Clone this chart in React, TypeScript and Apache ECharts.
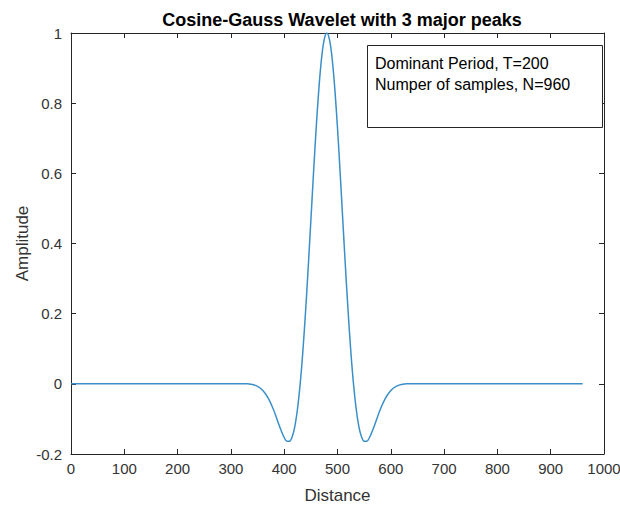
import React, { useEffect, useRef } from "react";
import * as echarts from "echarts";

// Wavelet samples (Distance, Amplitude)
const distance = [
  0, 300, 320, 330, 340, 350, 360, 370, 380, 390, 395, 400, 405, 410, 415, 420, 425, 430,
  435, 440, 445, 450, 455, 460, 465, 470, 475, 480, 485, 490, 495, 500, 505, 510, 515,
  520, 525, 530, 535, 540, 545, 550, 555, 560, 565, 570, 580, 590, 600, 610, 620, 630,
  640, 660, 960,
];
const amplitude = [
  0, 0, 0, 0, -0.002, -0.007, -0.019, -0.041, -0.074, -0.116, -0.136, -0.153, -0.164,
  -0.164, -0.151, -0.121, -0.071, 0, 0.092, 0.204, 0.33, 0.465, 0.601, 0.729, 0.84,
  0.927, 0.981, 1, 0.981, 0.927, 0.84, 0.729, 0.601, 0.465, 0.33, 0.204, 0.092, 0,
  -0.071, -0.121, -0.151, -0.164, -0.164, -0.153, -0.136, -0.116, -0.074, -0.041,
  -0.019, -0.007, -0.002, 0, 0, 0, 0,
];

const xTicks = { min: 0, max: 1000, interval: 100 };
const yTicks = { min: -0.2, max: 1, interval: 0.2 };

const titleText = "Cosine-Gauss Wavelet with 3 major peaks";
const xLabel = "Distance";
const yLabel = "Amplitude";
const noteLines = ["Dominant Period, T=200", "Numper of samples, N=960"];

export default function App() {
  const ref = useRef<HTMLDivElement>(null);
  useEffect(() => {
    document.body.style.margin = "0";
    const chart = echarts.init(ref.current!, undefined, { renderer: "svg" });
    const font = "'Liberation Sans', Arial, Helvetica, sans-serif";
    const axisColor = "#262626";
    const labelColor = "#333333";
    const data = distance.map((d, i) => [d, amplitude[i]]);
    const baseX = {
      type: "value" as const,
      min: xTicks.min,
      max: xTicks.max,
      interval: xTicks.interval,
      axisLine: { show: true, onZero: false, lineStyle: { color: axisColor, width: 1 } },
      axisTick: { show: true, inside: true, length: 5, lineStyle: { color: axisColor } },
      splitLine: { show: false },
    };
    const baseY = {
      type: "value" as const,
      min: yTicks.min,
      max: yTicks.max,
      interval: yTicks.interval,
      axisLine: { show: true, onZero: false, lineStyle: { color: axisColor, width: 1 } },
      axisTick: { show: true, inside: true, length: 5, lineStyle: { color: axisColor } },
      splitLine: { show: false },
    };
    chart.setOption({
      animation: false,
      backgroundColor: "#ffffff",
      title: {
        text: titleText,
        left: 337,
        top: 6,
        textAlign: "center",
        textStyle: { fontFamily: font, fontSize: 18, fontWeight: "bold", color: "#000" },
      },
      grid: { left: 71, right: 16, top: 33, bottom: 52, outerBoundsMode: "none", containLabel: false },
      xAxis: [
        {
          ...baseX,
          position: "bottom",
          name: xLabel,
          nameLocation: "middle",
          nameGap: 33,
          nameMoveOverlap: false,
          nameTextStyle: { fontFamily: font, fontSize: 17, color: labelColor },
          axisLabel: {
            fontFamily: font,
            fontSize: 15,
            color: labelColor,
            margin: 7,
            formatter: (v: number) => String(v),
          },
        },
        { ...baseX, position: "top", axisLabel: { show: false } },
      ],
      yAxis: [
        {
          ...baseY,
          position: "left",
          name: yLabel,
          nameLocation: "middle",
          nameGap: 40,
          nameMoveOverlap: false,
          nameTextStyle: { fontFamily: font, fontSize: 17, color: labelColor },
          axisLabel: {
            fontFamily: font,
            fontSize: 15,
            color: labelColor,
            margin: 9,
            formatter: (v: number) => String(Number(v.toFixed(1))),
          },
        },
        { ...baseY, position: "right", axisLabel: { show: false } },
      ],
      series: [
        {
          type: "line",
          data,
          xAxisIndex: 0,
          yAxisIndex: 0,
          showSymbol: false,
          smooth: 0.3,
          lineStyle: { color: "#3b8fc8", width: 1.5 },
        },
      ],
      graphic: [
        {
          type: "rect",
          shape: { x: 367.5, y: 45.5, width: 235, height: 82 },
          style: { fill: "#fff", stroke: "#262626", lineWidth: 1 },
          z: 10,
        },
        {
          type: "text",
          x: 375,
          y: 53,
          style: {
            text: noteLines.join("\n"),
            fontFamily: font,
            fontSize: 16,
            lineHeight: 21,
            fill: "#000",
          },
          z: 11,
        },
      ],
    });
    return () => chart.dispose();
  }, []);
  return <div ref={ref} style={{ width: 620, height: 506 }} />;
}
